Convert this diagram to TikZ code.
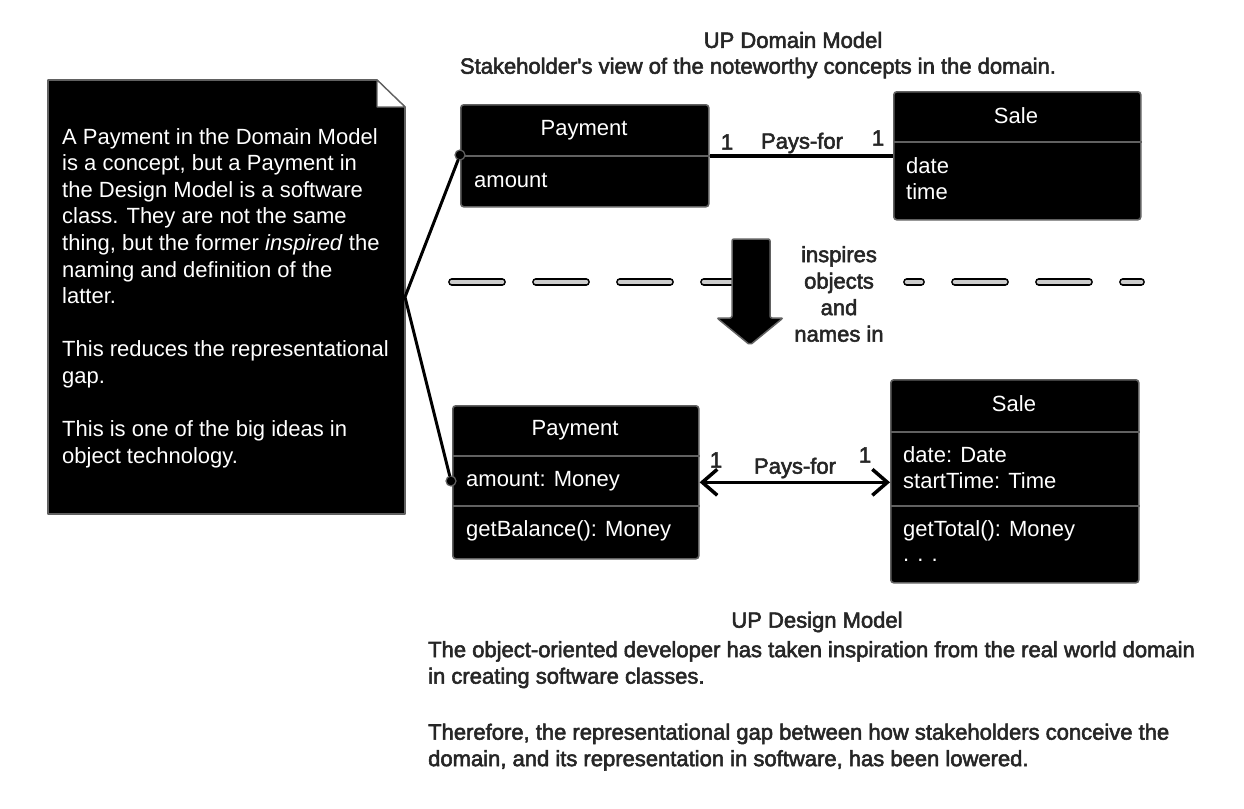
\documentclass[tikz,border=0pt]{standalone}
\usepackage{fontspec}
\setmainfont{Liberation Sans}
\newfontfamily\halofont[FakeBold=2.5]{Liberation Sans}
\usetikzlibrary{arrows.meta,calc}
\definecolor{edgegray}{gray}{0.38}
\definecolor{dashfill}{gray}{0.80}
\definecolor{captionink}{gray}{0.15}
\tikzset{
  cls/.style={draw=edgegray, fill=black, line width=1.6pt, rounded corners=3pt,
    inner sep=0pt, anchor=north west},
  divider/.style={draw=edgegray, line width=1.6pt},
  ctext/.style={text=white, font=\fontsize{22}{26}\selectfont, inner sep=0pt},
  lefttext/.style={ctext, anchor=west},
  captext/.style={text=captionink, font=\halofont\fontsize{22}{26.5}\selectfont, inner sep=0pt},
  conn/.style={draw=black, line width=3.5pt, line cap=round, line join=round},
  notecirc/.style={circle, draw=edgegray, fill=black, line width=1.2pt,
    minimum size=10pt, inner sep=0pt},
  dashline/.style={draw=black, double=dashfill, double distance=4.6pt,
    line width=1.6pt, line cap=round, dash pattern=on 50pt off 34pt},
  bigarrow/.style={fill=black, draw=edgegray, line width=1.5pt, rounded corners=2pt},
  openhead/.style={{Straight Barb[length=15pt,width=26pt]}-{Straight Barb[length=15pt,width=26pt]}}
}
\begin{document}
\begin{tikzpicture}[x=1pt,y=-1pt]
\useasboundingbox (0,0) rectangle (1244,808);
\fill[white] (0,0) rectangle (1244,808);

% ---------- note ----------
\draw[draw=edgegray, fill=black, line width=1.6pt, line join=round]
  (48,80) -- (377,80) -- (405,107) -- (405,514) -- (48,514) -- cycle;
\draw[draw=edgegray, fill=white, line width=1.2pt, line join=round]
  (377,80) -- (377,107) -- (405,107) -- cycle;
\node[text=white, font=\fontsize{22}{26.6}\selectfont, inner sep=0pt,
  anchor=north west, align=left] (notetext) at (62,128)
  {A Payment in the Domain Model\\
   is a concept, but a Payment in\\
   the Design Model is a software\\
   class. They are not the same\\
   thing, but the former \textit{inspired} the\\
   naming and definition of the\\
   latter.\\[26.6pt]
   This reduces the representational\\
   gap.\\[26.6pt]
   This is one of the big ideas in\\
   object technology.};

% ---------- captions ----------
\node[captext] (domtitle) at (793,40) {UP Domain Model};
\node[captext] (domsub) at (758,68) {Stakeholder's view of the noteworthy concepts in the domain.};
\node[captext] (destitle) at (817,622) {UP Design Model};
\node[captext, anchor=north west, align=left] (despar) at (428,641)
  {The object-oriented developer has taken inspiration from the real world domain\\
   in creating software classes.\\[29.5pt]
   Therefore, the representational gap between how stakeholders conceive the\\
   domain, and its representation in software, has been lowered.};

% ---------- dashed separator ----------
\draw[dashline] (452,282) -- (742,282);
\draw[dashline, dash phase=36pt] (907,282) -- (1141,282);

% ---------- big arrow ----------
\draw[bigarrow] (732,239) -- (770,239) -- (770,318) -- (783,318) -- (750,345)
  -- (717,318) -- (732,318) -- cycle;
\node[captext, align=center] (inspires) at (839,294) {inspires\\objects\\and\\names in};

% ---------- domain model ----------
\node[cls, minimum width=248pt, minimum height=102pt] (dpay) at (460,104) {};
\draw[divider] (dpay.west) -- (dpay.east);
\node[ctext] (dpayname) at (584,130) {Payment};
\node[lefttext] (dpayattr) at (474,180) {amount};

\node[cls, minimum width=247pt, minimum height=128pt] (dsale) at (893,91) {};
\draw[divider] (dsale.west |- 0,142) -- (dsale.east |- 0,142);
\node[ctext] (dsalename) at (1016,116) {Sale};
\node[lefttext] (dsaledate) at (906,166) {date};
\node[lefttext] (dsaletime) at (906,192) {time};

\draw[conn, line cap=butt] (dpay.east) -- (dpay.east -| dsale.west);
\node[captext] (dm1) at (727,142) {1};
\node[captext] (dlab) at (802,143) {Pays-for};
\node[captext] (dm2) at (878,138) {1};

% ---------- design model ----------
\node[cls, minimum width=246pt, minimum height=153pt] (xpay) at (452,405) {};
\draw[divider] (xpay.west |- 0,456) -- (xpay.east |- 0,456);
\draw[divider] (xpay.west |- 0,506) -- (xpay.east |- 0,506);
\node[ctext] (xpayname) at (575,430) {Payment};
\node[lefttext] (xpayattr) at (466,481) {amount: Money};
\node[lefttext] (xpayop) at (466,531) {getBalance(): Money};

\node[cls, minimum width=248pt, minimum height=203pt] (xsale) at (890,379) {};
\draw[divider] (xsale.west |- 0,432) -- (xsale.east |- 0,432);
\draw[divider] (xsale.west |- 0,506) -- (xsale.east |- 0,506);
\node[ctext] (xsalename) at (1014,404) {Sale};
\node[lefttext] (xsaledate) at (903,455) {date: Date};
\node[lefttext] (xsaletime) at (903,481) {startTime: Time};
\node[lefttext] (xsaleop) at (903,531) {getTotal(): Money};
\node[lefttext] (xsaledots) at (903,560) {. . .};

\draw[conn, openhead] (xpay.east) -- (xpay.east -| xsale.west);
\node[captext] (xm1) at (716,460) {1};
\node[captext] (xlab) at (795,468) {Pays-for};
\node[captext] (xm2) at (865,455) {1};

% ---------- note connectors ----------
\node[notecirc] (c1) at (460,155) {};
\node[notecirc] (c2) at (451,481) {};
\coordinate (nv) at (405,297);
\draw[conn, line width=3pt] (c1) -- (nv) -- (c2);
\end{tikzpicture}
\end{document}
